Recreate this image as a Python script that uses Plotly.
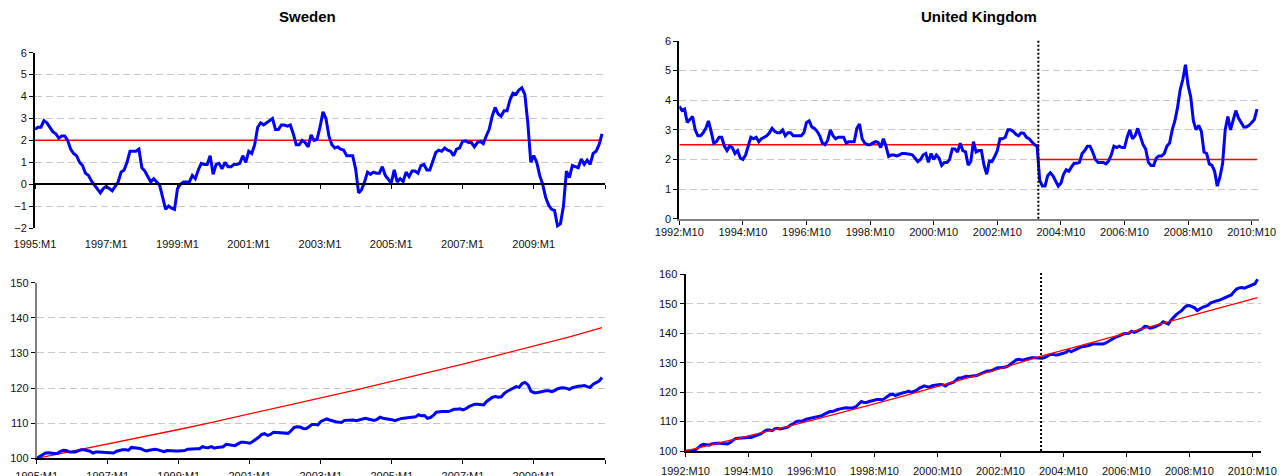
import plotly.graph_objects as go

# ---------------- DATA ----------------
se_tick_labels = ["1995:M1", "1997:M1", "1999:M1", "2001:M1", "2003:M1", "2005:M1", "2007:M1", "2009:M1"]
uk_tick_labels = ["1992:M10", "1994:M10", "1996:M10", "1998:M10", "2000:M10", "2002:M10", "2004:M10", "2006:M10", "2008:M10", "2010:M10"]

# Sweden CPI inflation, monthly from 1995:M1
se_inflation = [
    2.5, 2.6, 2.6, 2.9, 2.8, 2.6, 2.4, 2.3, 2.1, 2.2, 2.2, 2.0,
    1.6, 1.4, 1.3, 1.0, 0.85, 0.5, 0.4, 0.15, -0.05, -0.2, -0.4, -0.2,
    -0.1, -0.2, -0.3, -0.1, 0.1, 0.55, 0.65, 1.0, 1.5, 1.5, 1.5, 1.6,
    0.75, 0.6, 0.35, 0.1, 0.25, 0.1, -0.05, -0.6, -1.15, -1.0, -1.1, -1.15,
    -0.2, 0.0, 0.1, 0.1, 0.1, 0.4, 0.25, 0.65, 0.95, 0.9, 0.9, 1.3,
    0.45, 0.9, 0.95, 0.7, 1.0, 0.8, 0.8, 0.9, 0.9, 0.95, 1.3, 1.0,
    1.5, 1.4, 1.8, 2.6, 2.8, 2.7, 2.8, 2.9, 3.0, 2.5, 2.5, 2.7,
    2.7, 2.65, 2.7, 2.3, 1.8, 1.8, 2.0, 1.9, 1.7, 2.25, 2.0, 2.05,
    2.6, 3.3, 3.0, 2.2, 1.8, 1.65, 1.7, 1.6, 1.55, 1.3, 1.3, 1.3,
    0.7, -0.4, -0.25, 0.1, 0.55, 0.45, 0.55, 0.5, 0.5, 0.8, 0.4, 0.25,
    0.05, 0.65, 0.1, 0.25, 0.12, 0.55, 0.35, 0.6, 0.6, 0.5, 0.85, 0.9,
    0.65, 0.65, 1.1, 1.45, 1.55, 1.5, 1.65, 1.55, 1.5, 1.3, 1.6, 1.65,
    1.95, 1.98, 1.9, 1.9, 1.7, 1.9, 1.95, 1.85, 2.2, 2.5, 3.1, 3.5,
    3.2, 3.1, 3.35, 3.35, 3.85, 4.15, 4.1, 4.3, 4.4, 4.1, 2.8, 1.0,
    1.3, 1.0, 0.4, 0.0, -0.6, -0.95, -1.15, -1.2, -1.9, -1.8, -1.0, 0.6,
    0.3, 0.85, 0.8, 0.75, 1.15, 0.9, 1.1, 0.9, 1.4, 1.5, 1.8, 2.3,
]
se_infl_target_t = [0, 191]
se_infl_target = [2.0, 2.0]

# Sweden price level (1995:M1 = 100)
se_price = [
    100.0, 100.5, 101.0, 101.5, 101.6, 101.4, 101.4, 101.4, 102.0, 102.3, 102.2, 101.8,
    101.8, 101.8, 102.1, 102.4, 102.4, 102.3, 102.0, 101.5, 101.8, 101.8, 101.7, 101.7,
    101.6, 101.4, 101.5, 102.0, 102.3, 102.4, 102.4, 102.3, 103.1, 103.0, 102.9, 102.8,
    102.4, 102.1, 102.3, 102.5, 102.6, 102.4, 102.2, 101.9, 102.2, 102.1, 102.1, 102.1,
    102.1, 102.1, 102.2, 102.6, 102.7, 102.8, 102.7, 102.7, 103.3, 103.1, 103.0, 103.3,
    102.9, 103.1, 103.2, 103.3, 104.0, 103.8, 103.7, 103.6, 104.1, 104.6, 104.6, 104.4,
    104.3, 104.8, 105.3, 106.0, 106.8, 107.0, 106.5, 106.8, 107.4, 107.3, 107.3, 107.3,
    107.2, 107.1, 107.9, 108.8, 109.0, 108.9, 108.5, 108.4, 109.0, 109.6, 109.6, 109.5,
    110.5, 110.9, 111.2, 110.9, 110.6, 110.4, 110.3, 110.2, 110.8, 110.9, 110.8, 110.9,
    110.7, 111.0, 111.3, 111.4, 111.2, 110.9, 110.8, 111.1, 111.7, 111.4, 111.3, 111.2,
    111.0, 110.7, 111.1, 111.3, 111.4, 111.5, 111.4, 111.5, 111.8, 112.4, 112.1, 112.2,
    111.4, 111.6, 112.2, 113.1, 113.3, 113.3, 113.3, 113.3, 113.6, 114.0, 114.0, 114.1,
    113.8, 114.1, 114.7, 115.1, 115.4, 115.4, 115.4, 115.2, 116.2, 116.7, 117.4, 117.6,
    117.4, 117.5, 118.5, 119.1, 119.6, 120.0, 120.4, 120.2, 121.3, 121.6, 120.9, 119.1,
    118.7, 118.7, 118.9, 119.1, 119.2, 119.2, 119.0, 119.3, 119.8, 120.0, 120.1, 119.9,
    119.6, 120.1, 120.4, 120.5, 120.6, 120.7, 120.4, 120.2, 121.1, 121.6, 122.0, 123.0,
]
se_path_t = [0, 12, 24, 36, 48, 60, 72, 84, 96, 108, 120, 132, 144, 156, 168, 180, 191]
se_path = [100.0, 102.0, 104.0, 106.1, 108.2, 110.4, 112.6, 114.9, 117.2, 119.5,
           121.9, 124.3, 126.8, 129.4, 131.9, 134.6, 137.2]

# United Kingdom inflation, monthly from 1992:M10
uk_inflation = [
    3.8, 3.65, 3.7, 3.25, 3.35, 3.45, 3.0, 2.8, 2.8, 2.9, 3.05, 3.3,
    2.95, 2.55, 2.6, 2.75, 2.75, 2.45, 2.3, 2.45, 2.4, 2.2, 2.3, 2.05,
    2.0, 2.15, 2.45, 2.75, 2.7, 2.75, 2.6, 2.7, 2.75, 2.8, 2.9, 3.05,
    2.95, 2.9, 2.9, 3.0, 2.8, 2.9, 2.9, 2.8, 2.8, 2.8, 2.8, 2.9,
    3.25, 3.3, 3.1, 3.05, 2.95, 2.8, 2.55, 2.5, 2.65, 3.0, 2.8, 2.7,
    2.75, 2.75, 2.75, 2.55, 2.6, 2.6, 2.6, 3.05, 3.2, 2.7, 2.55, 2.5,
    2.5, 2.55, 2.6, 2.58, 2.4, 2.7, 2.45, 2.1, 2.15, 2.15, 2.12, 2.15,
    2.2, 2.2, 2.2, 2.18, 2.15, 2.05, 1.93, 2.0, 2.15, 2.2, 1.9, 2.2,
    2.0, 2.15, 2.05, 1.8, 1.9, 1.9, 2.0, 2.35, 2.35, 2.25, 2.55, 2.3,
    2.26, 1.81, 1.93, 2.6, 2.25, 2.3, 2.3, 1.8, 1.5, 1.95, 1.93, 2.1,
    2.3, 2.7, 2.7, 2.75, 3.0, 3.0, 2.95, 2.85, 2.8, 2.9, 2.88, 2.75,
    2.7, 2.6, 2.5, 2.45, 1.3, 1.1, 1.1, 1.45, 1.55, 1.45, 1.25, 1.1,
    1.2, 1.5, 1.65, 1.6, 1.75, 1.87, 1.87, 1.9, 2.2, 2.3, 2.45, 2.45,
    2.25, 2.0, 1.9, 1.9, 1.9, 1.85, 1.95, 2.15, 2.45, 2.4, 2.45, 2.4,
    2.4, 2.75, 3.0, 2.7, 2.8, 3.05, 2.8, 2.5, 2.35, 1.9, 1.8, 1.8,
    2.05, 2.12, 2.12, 2.2, 2.45, 2.55, 3.0, 3.3, 3.75, 4.35, 4.7, 5.2,
    4.5, 4.1, 3.3, 3.0, 3.15, 2.95, 2.25, 2.2, 1.85, 1.8, 1.6, 1.1,
    1.4, 1.85, 3.0, 3.45, 3.0, 3.35, 3.65, 3.4, 3.25, 3.1, 3.1, 3.15,
    3.25, 3.35, 3.7,
]
uk_infl_target_t = [0, 135.5, 135.5, 218]
uk_infl_target = [2.5, 2.5, 2.0, 2.0]
uk_regime_change_t = 135.5

# United Kingdom price level (1992:M10 = 100)
uk_price = [
    100.0, 100.0, 100.0, 100.1, 100.5, 101.2, 102.0, 102.3, 102.1, 102.0, 102.4, 102.6,
    102.6, 102.6, 102.6, 102.6, 102.4, 102.9, 103.5, 104.2, 104.3, 104.4, 104.6, 104.6,
    104.6, 104.6, 104.9, 105.2, 105.6, 106.0, 106.7, 107.1, 107.1, 106.9, 107.5, 107.7,
    107.5, 107.7, 107.8, 108.1, 108.8, 109.2, 109.9, 110.2, 110.1, 110.3, 110.8, 111.0,
    111.1, 111.5, 111.7, 111.7, 112.0, 112.5, 113.0, 113.4, 113.4, 113.8, 114.1, 114.3,
    114.6, 114.7, 114.6, 114.6, 114.7, 115.1, 116.1, 116.8, 116.5, 116.5, 116.8, 117.1,
    117.3, 117.5, 117.5, 117.4, 117.9, 118.6, 119.2, 119.3, 118.8, 119.2, 119.6, 119.8,
    120.0, 120.3, 119.9, 120.2, 120.6, 121.3, 121.8, 122.1, 121.8, 121.7, 122.2, 122.4,
    122.5, 122.6, 122.5, 122.1, 122.7, 123.1, 123.3, 124.0, 124.8, 124.8, 125.2, 125.4,
    125.3, 125.4, 125.5, 125.6, 126.0, 126.4, 127.0, 127.2, 127.2, 127.4, 127.9, 128.3,
    128.3, 128.3, 128.5, 128.9, 129.6, 130.4, 130.9, 131.1, 130.9, 131.0, 131.2, 131.6,
    131.7, 131.7, 131.7, 131.5, 131.5, 131.8, 132.4, 132.8, 132.8, 132.6, 132.7, 133.0,
    133.2, 133.5, 134.2, 133.7, 134.2, 134.6, 135.0, 135.4, 135.5, 135.6, 135.9, 136.3,
    136.3, 136.4, 136.5, 136.3, 136.6, 137.2, 137.7, 138.3, 138.7, 139.0, 139.4, 139.8,
    139.9, 140.0, 140.7, 140.3, 140.6, 141.0, 141.5, 142.3, 142.2, 141.7, 141.8, 142.2,
    142.6, 143.0, 143.9, 143.5, 143.1, 144.4, 145.5, 146.3, 147.0, 147.6, 148.6, 149.3,
    149.4, 149.1, 148.6, 147.7, 148.3, 148.8, 149.1, 149.4, 150.2, 150.6, 150.9, 151.1,
    151.5, 151.8, 152.2, 152.7, 153.0, 154.1, 155.0, 155.4, 155.5, 155.3, 155.7, 156.0,
    156.3, 156.8, 158.3,
]
uk_path_t = [0, 12, 24, 36, 48, 60, 72, 84, 96, 108, 120, 132, 135.5,
             148, 160, 172, 184, 196, 208, 218]
uk_path = [100.0, 102.5, 105.1, 107.7, 110.4, 113.1, 116.0, 118.9, 121.8, 124.9, 128.0, 131.2, 132.2,
           135.2, 138.1, 141.0, 143.9, 146.8, 149.7, 152.1]

# ---------------- FIGURE ----------------
W, H = 1288, 476
FONT = "Arial, Liberation Sans, sans-serif"
BLUE = "#0000FF"
RED = "#FF0000"
GRID = "#C8C8C8"

def px_x(a, b):
    return [a / W, b / W]

def px_y(top, bottom):
    return [1 - bottom / H, 1 - top / H]

se_months = list(range(len(se_inflation)))
uk_months = list(range(len(uk_inflation)))
se_tickvals = [24 * i for i in range(len(se_tick_labels))]
uk_tickvals = [24 * i for i in range(len(uk_tick_labels))]

fig = go.Figure()

# Sweden top
fig.add_trace(go.Scatter(x=se_infl_target_t, y=se_infl_target, mode="lines",
                         line=dict(color=RED, width=1.5), xaxis="x", yaxis="y"))
fig.add_trace(go.Scatter(x=se_months, y=se_inflation, mode="lines",
                         line=dict(color=BLUE, width=3), xaxis="x", yaxis="y"))
# Sweden bottom
fig.add_trace(go.Scatter(x=se_path_t, y=se_path, mode="lines",
                         line=dict(color=RED, width=1.3), xaxis="x2", yaxis="y2"))
fig.add_trace(go.Scatter(x=list(range(len(se_price))), y=se_price, mode="lines",
                         line=dict(color=BLUE, width=3), xaxis="x2", yaxis="y2"))
# UK top
fig.add_trace(go.Scatter(x=uk_infl_target_t, y=uk_infl_target, mode="lines",
                         line=dict(color=RED, width=1.5), xaxis="x3", yaxis="y3"))
fig.add_trace(go.Scatter(x=uk_months, y=uk_inflation, mode="lines",
                         line=dict(color=BLUE, width=3), xaxis="x3", yaxis="y3"))
# UK bottom
fig.add_trace(go.Scatter(x=list(range(len(uk_price))), y=uk_price, mode="lines",
                         line=dict(color=BLUE, width=3), xaxis="x4", yaxis="y4"))
fig.add_trace(go.Scatter(x=uk_path_t, y=uk_path, mode="lines",
                         line=dict(color=RED, width=1.3), xaxis="x4", yaxis="y4"))

tickfont = dict(family=FONT, size=11, color="#111111")

def yax(domain, rng, dtick, linecolor, anchor):
    return dict(domain=domain, range=rng, dtick=dtick, tick0=rng[0], anchor=anchor,
                automargin=False,
                showgrid=True, gridcolor=GRID, gridwidth=1, griddash="7px,4px",
                zeroline=False, showline=True, linecolor=linecolor, linewidth=2,
                ticks="outside", ticklen=4, tickcolor="#000000", tickwidth=1,
                tickfont=tickfont, fixedrange=True)

def xax(domain, rng, tickvals, ticktext, anchor, showline, linecolor, ticks, standoff):
    return dict(domain=domain, range=rng, tickmode="array", tickvals=tickvals, ticktext=ticktext,
                anchor=anchor, automargin=False, showgrid=False, zeroline=False, showline=showline,
                linecolor=linecolor, linewidth=2, ticks=ticks, ticklen=4,
                tickcolor="#000000", tickwidth=1, tickfont=tickfont,
                ticklabelstandoff=standoff, fixedrange=True)

se_top_dom_y = px_y(52.7, 228)
se_x_range = [0, 192]
se_top_range = [-2, 6]

layout = dict(
    width=W, height=H, margin=dict(l=0, r=0, t=0, b=0, autoexpand=False),
    paper_bgcolor="white", plot_bgcolor="white", showlegend=False,
    font=dict(family=FONT),
    xaxis=xax(px_x(35, 605), se_x_range, se_tickvals, se_tick_labels, "y", False, "#000000", "", 8),
    yaxis=yax(se_top_dom_y, se_top_range, 1, "#000000", "x"),
    xaxis2=xax(px_x(36.7, 605), se_x_range, se_tickvals + [192], se_tick_labels + [""], "y2",
               True, "#000000", "outside", 2),
    yaxis2=yax(px_y(282.7, 458.3), [100, 150], 10, "#808080", "x2"),
    xaxis3=xax(px_x(679.3, 1259), [0, 218.75], uk_tickvals, uk_tick_labels, "y3",
               True, "#808080", "outside", -2),
    yaxis3=yax(px_y(41, 218.7), [0, 6], 1, "#000000", "x3"),
    xaxis4=xax(px_x(685.5, 1261), [0, 219.3], uk_tickvals, uk_tick_labels, "y4",
               True, "#000000", "outside", 5),
    yaxis4=yax(px_y(274.3, 451), [100, 160], 10, "#000000", "x4"),
)

# zero line with tick marks for the Sweden inflation panel (axis crosses at 0)
zero_frac = (0 - se_top_range[0]) / (se_top_range[1] - se_top_range[0])
zero_pos = se_top_dom_y[0] + zero_frac * (se_top_dom_y[1] - se_top_dom_y[0])
layout["xaxis5"] = dict(overlaying="x", anchor="free", position=zero_pos, range=se_x_range,
                        tickmode="array", tickvals=se_tickvals + [192], showticklabels=False,
                        showline=True, linecolor="#000000", linewidth=1.5, ticks="outside",
                        ticklen=4, tickcolor="#000000", tickwidth=1, showgrid=False,
                        automargin=False, zeroline=False, fixedrange=True)
fig.add_trace(go.Scatter(x=[None], y=[None], xaxis="x5", yaxis="y", showlegend=False))

fig.update_layout(**layout)

# regime change (RPIX -> CPI) dotted lines
for xr, yr in (("x3", "y3"), ("x4", "y4")):
    fig.add_shape(type="line", xref=xr, yref=yr + " domain", x0=uk_regime_change_t,
                  x1=uk_regime_change_t, y0=0, y1=1.01,
                  line=dict(color="#000000", width=2, dash="2px,2px"))

fig.add_annotation(text="<b>Sweden</b>", x=307.5 / W, y=1 - 17 / H, xref="paper", yref="paper",
                   showarrow=False, font=dict(family=FONT, size=15, color="#000000"),
                   xanchor="center", yanchor="middle")
fig.add_annotation(text="<b>United Kingdom</b>", x=979 / W, y=1 - 17 / H, xref="paper", yref="paper",
                   showarrow=False, font=dict(family=FONT, size=15, color="#000000"),
                   xanchor="center", yanchor="middle")

fig.write_html("out.html", config={"displayModeBar": False},
               post_script="document.body.style.margin='0';document.body.style.overflow='hidden';")
